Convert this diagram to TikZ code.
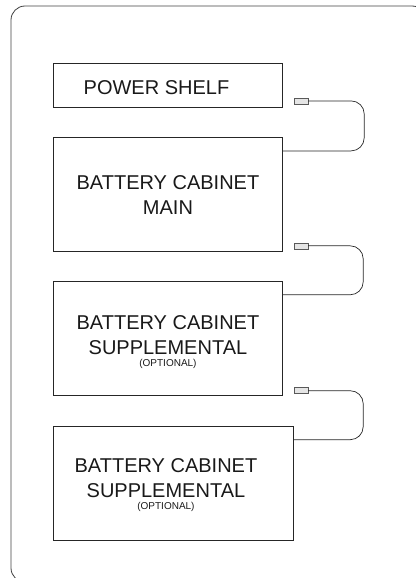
\documentclass[tikz,border=0pt]{standalone}
\usepackage{fontspec}
\setmainfont{Liberation Sans}
\usetikzlibrary{positioning,calc}

\begin{document}
\begin{tikzpicture}[x=1pt,y=-1pt,font=\fontsize{20}{25}\selectfont]
    \tikzset{
        cabinet/.style={draw=black!85,line width=0.9pt,minimum width=229pt,minimum height=114pt,inner sep=0pt},
        plug/.style={draw=black!65,fill=black!10,line width=0.6pt,minimum width=14pt,minimum height=6pt,inner sep=0pt},
        cable/.style={draw=black!85,line width=0.7pt,rounded corners=13pt},
        caption/.style={align=center,inner sep=0pt,anchor=north,text=black!90}
    }
    \useasboundingbox (0,0) rectangle (415,578);
    % Outer frame
    \draw[draw=black!75,line width=0.8pt,rounded corners=14pt] (11,6) rectangle (426,582);
    % Power shelf
    \node[cabinet,minimum height=44pt,anchor=north west] (shelf) at (53,63) {};
    \node[caption] (shelfText) at ([xshift=-11.5pt,yshift=-17pt]shelf.north) {POWER SHELF};
    % Main cabinet
    \node[cabinet,below=29pt of shelf.south west,anchor=north west] (main) {};
    \node[caption] (mainText) at ([yshift=-38pt]main.north) {BATTERY CABINET\\MAIN};
    % Supplemental cabinets
    \node[cabinet,below=29pt of main.south west,anchor=north west] (suppA) {};
    \node[caption] (suppAText) at ([yshift=-35pt]suppA.north)
        {BATTERY CABINET\\SUPPLEMENTAL\\[-13pt]{\fontsize{10}{12}\selectfont(OPTIONAL)}};
    \node[cabinet,minimum width=240pt,below=30pt of suppA.south west,anchor=north west] (suppB) {};
    \node[caption] (suppBText) at ([xshift=-7.5pt,yshift=-33pt]suppB.north)
        {BATTERY CABINET\\SUPPLEMENTAL\\[-13pt]{\fontsize{10}{12}\selectfont(OPTIONAL)}};
    % Plugs
    \node[plug] (plugA) at ([xshift=18pt,yshift=7pt]shelf.south east) {};
    \node[plug] (plugB) at ([xshift=18pt,yshift=6pt]main.south east) {};
    \node[plug] (plugC) at ([xshift=18pt,yshift=5pt]suppA.south east) {};
    \coordinate (mainIn) at ([yshift=-14pt]main.north east);
    \coordinate (suppAIn) at ([yshift=-14pt]suppA.north east);
    \coordinate (suppBIn) at ([yshift=-14pt]suppB.north east);
    % Cables
    \draw[cable] (plugA.east) -- ++(56,0) |- (mainIn);
    \draw[cable] (plugB.east) -- ++(55,0) |- (suppAIn);
    \draw[cable] (plugC.east) -- ++(55,0) |- (suppBIn);
\end{tikzpicture}
\end{document}
